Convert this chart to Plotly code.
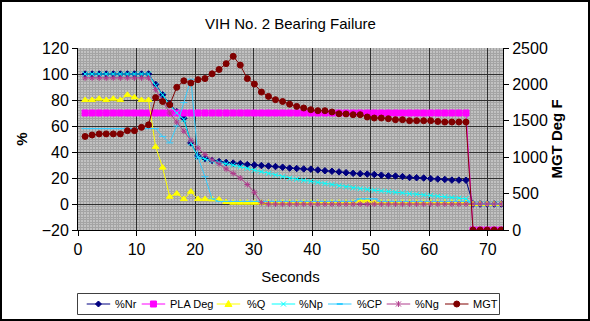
import plotly.graph_objects as go

seconds = [1.21, 2.41, 3.62, 4.82, 6.03, 7.23, 8.44, 9.64, 10.85, 12.05,
           13.26, 14.46, 15.67, 16.87, 18.08, 19.28, 20.49, 21.69, 22.9, 24.1,
           25.31, 26.51, 27.72, 28.92, 30.13, 31.33, 32.54, 33.74, 34.95, 36.15,
           37.36, 38.56, 39.77, 40.97, 42.18, 43.38, 44.59, 45.79, 47.0, 48.2,
           49.41, 50.61, 51.82, 53.02, 54.23, 55.43, 56.64, 57.84, 59.05, 60.25,
           61.46, 62.66, 63.87, 65.07, 66.28, 67.48, 68.69, 69.89, 71.1, 72.3]

nr = [100, 100, 100, 100, 100, 100, 100, 100, 100, 100,
      92, 84, 77, 71, 66, 47, 37, 35, 33.5, 32.6,
      32, 31.5, 31, 30.3, 30, 29.6, 29.2, 28.8, 28.3, 27.6,
      27.3, 27, 26.8, 26.2, 25.6, 25.2, 24.7, 24.1, 23.6, 23.3,
      23, 22.7, 22.2, 21.6, 21.5, 21.1, 20.4, 20.2, 20, 19.5,
      19.2, 18.9, 18.4, 18.4, 18.3, 0, 0, 0, 0, 0]

pla = [70, 70, 70, 70, 70, 70, 70, 70, 70, 70,
       70, 70, 70, 70, 70, 70, 70, 70, 70, 70,
       70, 70, 70, 70, 70, 70, 70, 70, 70, 70,
       70, 70, 70, 70, 70, 70, 70, 70, 70, 70,
       70, 70, 70, 70, 70, 70, 70, 70, 70, 70,
       70, 70, 70, 70, 70, -20, -20, -20, -20, -20]

q = [80, 80, 81, 80, 81, 80, 84, 82, 80, 80,
     44, 28, 5.6, 8, 3.8, 9.5, 3.8, 3.8, 3.6, 3.5,
     1.5, 1, 1, 1, 1, 1, 1, 1, 1, 1,
     1, 1, 1, 1, 1, 1, 1, 1, 1, 2.5,
     2.5, 1, 1, 1, 1, 1, 1, 1, 1, 1,
     1, 1, 1, 1, 1, 0, 0, 0, 0, 0]

np_ = [100, 100, 100, 100, 100, 100, 100, 100, 100, 100,
       91, 84, 76, 70, 65, 47, 36, 34.5, 33, 32,
       31, 30, 28.8, 27.5, 26, 24.8, 23.5, 22.3, 21, 19.8,
       19, 18.2, 17.4, 16.6, 15.8, 15, 14, 13.2, 12.4, 11.8,
       11.2, 10.6, 10, 9.6, 9, 8.6, 8, 7.5, 7, 6.6,
       6, 5.5, 5, 4.5, 4, 0, 0, 0, 0, 0]

cp = [58, 58, 58, 58, 58, 58, 58, 58, 58, 58,
      58, 52, 47, 60, 78, 96, 36, 21, 4, 2,
      2, 2, 2, 2, 2, 2, 2, 2, 2, 2,
      2, 2, 2, 2, 2, 2, 2, 2, 2, 4,
      4, 4, 2, 2, 2, 2, 2, 2, 2, 2,
      2, 2, 2, 2, 2, 0, 0, 0, 0, 0]

ng = [97, 97, 97, 97, 97, 97, 97, 97, 97, 97,
      88, 79, 70, 63, 56, 49, 43, 38, 34, 31,
      27, 23.5, 20, 15, 9, 1, 0, 0, 0, 0,
      0, 0, 0, 0, 0, 0, 0, 0, 0, 0,
      0, 0, 0, 0, 0, 0, 0, 0, 0, 0,
      0, 0, 0, 0, 0, 0, 0, 0, 0, 0]

mgt = [1285, 1305, 1320, 1320, 1320, 1320, 1365, 1365, 1410, 1445,
       1820, 1765, 1720, 1960, 2050, 2020, 2065, 2080, 2145, 2205,
       2285, 2385, 2265, 2080, 2005, 1895, 1835, 1790, 1765, 1728,
       1698, 1676, 1652, 1639, 1639, 1621, 1597, 1594, 1584, 1584,
       1552, 1538, 1538, 1529, 1515, 1515, 1501, 1501, 1501, 1501,
       1491, 1483, 1483, 1483, 1483, 0, 0, 0, 0, 0]

series_names = ["%Nr", "PLA Deg", "%Q", "%Np", "%CP", "%Ng", "MGT"]
series_colors = ["#000080", "#FF00FF", "#FFFF00", "#00FFFF", "#33CCFF", "#B03C8C", "#800000"]
series_symbols = ["diamond", "square", "triangle-up", "x-thin", "line-ew", "asterisk", "circle"]
series_sizes = [5, 6, 6, 5, 5, 5, 6]
series_values = [nr, pla, q, np_, cp, ng, mgt]
series_axes = ["y", "y", "y", "y", "y", "y", "y2"]

FONT = "Liberation Sans, Arial, sans-serif"

fig = go.Figure()
for name, y, color, sym, size, ax in zip(series_names, series_values, series_colors,
                                          series_symbols, series_sizes, series_axes):
    fig.add_trace(go.Scatter(
        x=seconds, y=y, name=name, mode="lines+markers", yaxis=ax,
        line=dict(color=color, width=1),
        marker=dict(symbol=sym, size=size, color=color, line=dict(color=color, width=1)),
        showlegend=False,
    ))

# layout geometry (pixels)
L, R, T, B = 78, 87, 48, 91
W = 590 - L - R
H = 321 - T - B


def px(x):
    return (x - L) / W


def py(y):
    return (T + H - y) / H


axis_common = dict(
    showline=True, linecolor="black", linewidth=1,
    ticks="outside", ticklen=5, tickcolor="black",
    tickfont=dict(family=FONT, size=16, color="black"),
    zeroline=False,
)

shapes = [dict(type="rect", xref="paper", yref="paper",
               x0=px(1), x1=px(589), y0=py(320), y1=py(1),
               line=dict(color="black", width=2), fillcolor="rgba(0,0,0,0)",
               layer="above")]
annotations = []

# legend key below the plot
shapes.append(dict(type="rect", xref="paper", yref="paper",
                   x0=px(77.5), x1=px(499.5), y0=py(314.5), y1=py(293.5),
                   line=dict(color="#404040", width=1), fillcolor="white", layer="above"))
legend_line_x = [86.7, 141.7, 216.7, 271.7, 328, 386.7, 445]
legend_text_x = [113, 168, 245, 297, 355, 413, 470.5]
ly = 304
for name, color, sym, lx, tx in zip(series_names, series_colors, series_symbols,
                                    legend_line_x, legend_text_x):
    shapes.append(dict(type="line", xref="paper", yref="paper",
                       x0=px(lx), x1=px(lx + 23.5), y0=py(ly), y1=py(ly),
                       line=dict(color=color, width=1), layer="above"))
    cx = lx + 11.75
    s = 3
    if sym == "diamond":
        path = f"M{px(cx)},{py(ly - s)} L{px(cx + s)},{py(ly)} L{px(cx)},{py(ly + s)} L{px(cx - s)},{py(ly)} Z"
        shapes.append(dict(type="path", xref="paper", yref="paper", path=path,
                           line=dict(color=color, width=1), fillcolor=color, layer="above"))
    elif sym == "square":
        shapes.append(dict(type="rect", xref="paper", yref="paper",
                           x0=px(cx - s), x1=px(cx + s), y0=py(ly + s), y1=py(ly - s),
                           line=dict(color=color, width=1), fillcolor=color, layer="above"))
    elif sym == "triangle-up":
        path = f"M{px(cx)},{py(ly - 3.5)} L{px(cx + 3.5)},{py(ly + 2.5)} L{px(cx - 3.5)},{py(ly + 2.5)} Z"
        shapes.append(dict(type="path", xref="paper", yref="paper", path=path,
                           line=dict(color=color, width=1), fillcolor=color, layer="above"))
    elif sym == "x-thin":
        path = (f"M{px(cx - 2.5)},{py(ly - 2.5)} L{px(cx + 2.5)},{py(ly + 2.5)} "
                f"M{px(cx + 2.5)},{py(ly - 2.5)} L{px(cx - 2.5)},{py(ly + 2.5)}")
        shapes.append(dict(type="path", xref="paper", yref="paper", path=path,
                           line=dict(color=color, width=1), layer="above"))
    elif sym == "line-ew":
        shapes.append(dict(type="line", xref="paper", yref="paper",
                           x0=px(cx - 3), x1=px(cx + 3), y0=py(ly), y1=py(ly),
                           line=dict(color=color, width=2), layer="above"))
    elif sym == "asterisk":
        path = (f"M{px(cx - 2.5)},{py(ly - 2.5)} L{px(cx + 2.5)},{py(ly + 2.5)} "
                f"M{px(cx + 2.5)},{py(ly - 2.5)} L{px(cx - 2.5)},{py(ly + 2.5)} "
                f"M{px(cx)},{py(ly - 3)} L{px(cx)},{py(ly + 3)}")
        shapes.append(dict(type="path", xref="paper", yref="paper", path=path,
                           line=dict(color=color, width=1), layer="above"))
    elif sym == "circle":
        shapes.append(dict(type="circle", xref="paper", yref="paper",
                           x0=px(cx - s), x1=px(cx + s), y0=py(ly + s), y1=py(ly - s),
                           line=dict(color=color, width=1), fillcolor=color, layer="above"))
    annotations.append(dict(text=name, xref="paper", yref="paper", x=px(tx), y=py(ly),
                            xanchor="left", yanchor="middle", showarrow=False,
                            font=dict(family=FONT, size=11, color="black")))

fig.update_layout(
    width=590, height=321,
    margin=dict(l=L, r=R, t=T, b=B, pad=0, autoexpand=False),
    paper_bgcolor="white",
    plot_bgcolor="#c2c2c2",
    font=dict(family=FONT, color="black"),
    title=dict(text="VIH No. 2 Bearing Failure", x=0.5, xref="paper", xanchor="center",
               y=1 - 24 / 321, yref="container", yanchor="middle",
               font=dict(family=FONT, size=15, color="black")),
    xaxis=dict(range=[0, 72.6], tick0=0, dtick=10,
               showgrid=True, gridcolor="#303030", gridwidth=1,
               minor=dict(dtick=0.5, showgrid=True, gridcolor="#a4a4a4", gridwidth=1),
               title=dict(text="Seconds", font=dict(family=FONT, size=15, color="black"),
                          standoff=14),
               **axis_common),
    yaxis=dict(range=[-20, 120], tick0=0, dtick=20,
               showgrid=True, gridcolor="#303030", gridwidth=1,
               minor=dict(dtick=2, showgrid=True, gridcolor="#a4a4a4", gridwidth=1),
               title=dict(text="<b>%</b>", font=dict(family=FONT, size=15, color="black"),
                          standoff=10),
               **axis_common),
    yaxis2=dict(range=[0, 2500], tick0=0, dtick=500, overlaying="y", side="right",
                showgrid=False,
                title=dict(text="<b>MGT Deg F</b>", font=dict(family=FONT, size=15, color="black"),
                           standoff=4),
                **axis_common),
    showlegend=False,
    shapes=shapes,
    annotations=annotations,
)

fig.write_html("out.html")
